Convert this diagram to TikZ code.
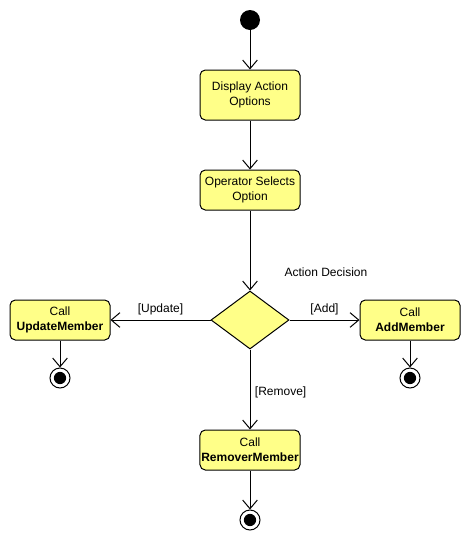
\documentclass[tikz,border=0pt]{standalone}
\usepackage{fontspec}
\setmainfont{Liberation Sans}
\usetikzlibrary{arrows.meta,shapes.geometric}

\definecolor{actfill}{HTML}{FFFF88}

\tikzset{
  activity/.style={draw, fill=actfill, rounded corners=4pt, line width=0.75pt,
    minimum width=75pt, align=center, inner sep=1pt,
    font=\fontsize{9}{11}\selectfont},
  decision/.style={draw, fill=actfill, diamond, aspect=1.35, line width=0.75pt,
    minimum width=58.5pt, minimum height=43.5pt, inner sep=0pt},
  initial/.style={circle, fill=black, minimum size=15pt, inner sep=0pt},
  final/.style={circle, draw, line width=0.75pt, minimum size=15pt, inner sep=0pt,
    path picture={\fill (path picture bounding box.center) circle (4.6pt);}},
  flow/.style={line width=0.75pt, -{Straight Barb[length=6.5pt,width=11pt]}},
  guard/.style={font=\fontsize{9}{11}\selectfont}
}

\begin{document}
\begin{tikzpicture}[x=0.75pt,y=-0.75pt]
  \useasboundingbox (0,0) rectangle (470,540);

  \node[initial] (start) at (250,20) {};
  \node[activity, minimum height=37.5pt] (display) at (250,95) {Display Action\\Options};
  \node[activity, minimum height=30pt] (select) at (250,190) {Operator Selects\\Option};
  \node[decision] (choice) at (250,320) {};
  \node[guard] (choicelbl) at (326,272) {Action Decision};

  \node[activity, minimum height=30pt] (update) at (60,320) {Call\\\textbf{UpdateMember}};
  \node[activity, minimum height=30pt] (add) at (410,320) {Call\\\textbf{AddMember}};
  \node[activity, minimum height=30pt] (remove) at (250,450) {Call\\\textbf{RemoverMember}};

  \node[final] (endupdate) at (60,378) {};
  \node[final] (endadd) at (410,378) {};
  \node[final] (endremove) at (250,520) {};

  \draw[flow] (start) -- (display);
  \draw[flow] (display) -- (select);
  \draw[flow] (select) -- (choice);
  \draw[flow] (choice) -- node[guard, above] {[Update]} (update);
  \draw[flow] (choice) -- node[guard, above] {[Add]} (add);
  \draw[flow] (choice) -- node[guard, right, pos=0.54] {[Remove]} (remove);
  \draw[flow] (update) -- (endupdate);
  \draw[flow] (add) -- (endadd);
  \draw[flow] (remove) -- (endremove);
\end{tikzpicture}
\end{document}
